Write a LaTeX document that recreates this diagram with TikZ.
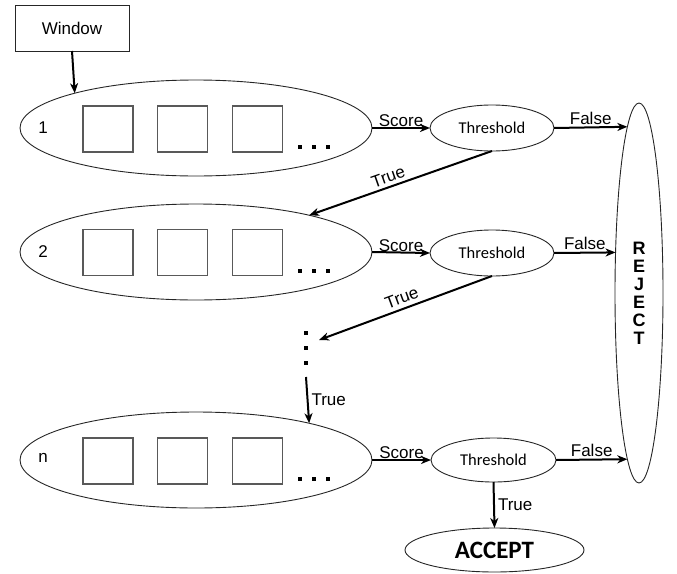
\documentclass[tikz,border=0pt]{standalone}
\usepackage{fontspec}
\setmainfont{Liberation Sans}
\newfontfamily\calfont{Carlito}
\usetikzlibrary{shapes.geometric,arrows.meta}
\begin{document}
\begin{tikzpicture}[x=1pt,y=-1pt,
  every node/.style={outer sep=0pt},
  lbl/.style={font=\fontsize{17}{20}\selectfont, inner sep=2pt},
  stage/.style={ellipse, draw=black!85, line width=0.9pt, minimum width=352pt, minimum height=96pt, inner sep=0pt},
  thr/.style={ellipse, draw=black!85, line width=0.9pt, minimum width=124pt, minimum height=46pt, inner sep=0pt, font=\calfont\fontsize{16.5}{18}\selectfont},
  cell/.style={draw=black!65, line width=1.2pt, minimum width=50pt, minimum height=46pt, inner sep=0pt},
  dot/.style={fill=black, minimum size=4.5pt, inner sep=0pt},
  arr/.style={line width=2pt, -{Stealth[length=10pt,width=8pt,inset=3pt]}}
]
\useasboundingbox (0,0) rectangle (677,573);

% window
\node[draw=black!85, line width=0.9pt, minimum width=114pt, minimum height=46pt, lbl] (win) at (72,28) {Window};

% stages
\node[stage] (e1) at (196,128) {};
\node[stage] (e2) at (196,252) {};
\node[stage] (en) at (196,460) {};
\node[lbl] (n1) at (43,128) {1};
\node[lbl] (n2) at (43,252) {2};
\node[lbl] (nn) at (43,458) {n};

\foreach \r/\y/\dy in {1/129/147, 2/252.5/271, n/461/479}{
  \node[cell] (c\r a) at (108,\y) {};
  \node[cell] (c\r b) at (182.5,\y) {};
  \node[cell] (c\r c) at (257.5,\y) {};
  \node[dot] (d\r a) at (300,\dy) {};
  \node[dot] (d\r b) at (314,\dy) {};
  \node[dot] (d\r c) at (328,\dy) {};
}

% thresholds
\node[thr] (t1) at (492,128) {Threshold};
\node[thr] (t2) at (492,253) {Threshold};
\node[thr, minimum width=125pt, minimum height=44pt] (tn) at (493.5,460) {Threshold};

% reject / accept
\node[ellipse, draw=black!85, line width=0.9pt, minimum width=48pt, minimum height=380pt, inner sep=0pt] (rej) at (639,293) {};
\node[align=center, font=\bfseries\fontsize{18}{18}\selectfont, inner sep=0pt] (rejt) at (639,293) {R\\E\\J\\E\\C\\T};
\node[ellipse, draw=black!85, line width=0.9pt, minimum width=179pt, minimum height=44pt, inner sep=0pt, font=\calfont\bfseries\fontsize{25}{28}\selectfont] (acc) at (494.5,550) {ACCEPT};

% vertical dots
\node[dot] (v1) at (306,333) {};
\node[dot] (v2) at (306,348) {};
\node[dot] (v3) at (306,363) {};
\coordinate (vin) at (319,340);
\coordinate (vout) at (306,377);

% connectors
\draw[arr] (win.south) -- (e1.164.64);
\draw[arr] (e1.east) -- node[lbl, above, inner sep=1pt] {Score} (t1.west);
\draw[arr] (e2.east) -- node[lbl, above, inner sep=1pt] {Score} (t2.west);
\draw[arr] (en.east) -- node[lbl, above, inner sep=1pt] {Score} (tn.west);
\draw[arr] (t1.east) -- node[lbl, above, inner sep=3pt] {False} (rej.94.16);
\draw[arr] (t2.east) -- node[lbl, above, inner sep=3pt] {False} (rej.120.4);
\draw[arr] (tn.east) -- node[lbl, above, inner sep=3pt] {False} (rej.266.1);
\draw[arr] (t1.south) -- node[lbl, above, sloped, pos=0.55, inner sep=4pt] {True} (e2.18);
\draw[arr] (t2.south) -- node[lbl, above, sloped, pos=0.5, inner sep=5pt] {True} (vin);
\draw[arr] (vout) -- node[lbl, right, inner sep=4pt] {True} (en.18.83);
\draw[arr] (tn.south) -- node[lbl, right, inner sep=4pt] {True} (acc.north);
\end{tikzpicture}
\end{document}
